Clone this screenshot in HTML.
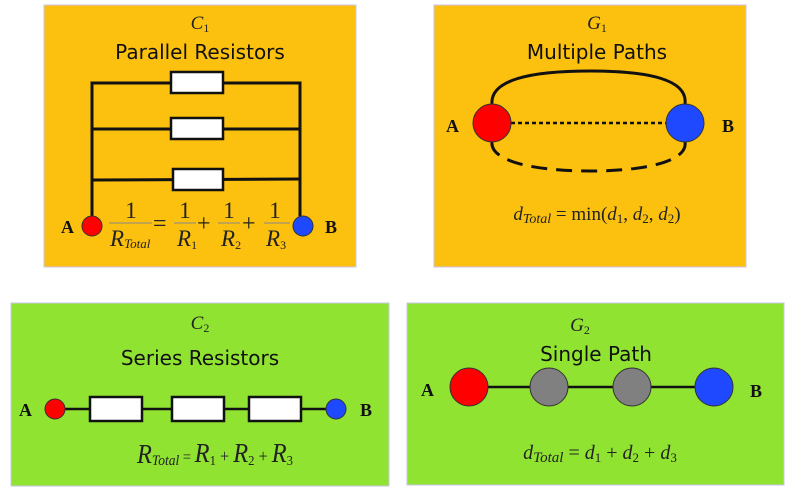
<!DOCTYPE html>
<html><head><meta charset="utf-8"><style>
html,body{margin:0;padding:0;background:#fff;width:797px;height:494px;overflow:hidden}
svg{display:block}
.t{font-family:"DejaVu Sans","Liberation Sans",sans-serif;font-size:20px;fill:#111}
.m{font-family:"Liberation Serif",serif;font-style:italic;fill:#222}
.r{font-family:"Liberation Serif",serif;fill:#222}
.b{font-family:"Liberation Serif",serif;font-weight:bold;font-size:18px;fill:#111}
</style></head><body>
<svg width="797" height="494" viewBox="0 0 797 494" xmlns="http://www.w3.org/2000/svg">
<!-- Panel 1 -->
<rect x="44" y="5" width="312" height="262" fill="#fcc00f" stroke="#c8c4e8" stroke-width="1"/>
<text x="200" y="29" class="m" font-size="19" text-anchor="middle">C<tspan font-size="12" font-style="normal" dy="3">1</tspan></text>
<text x="200" y="59" class="t" text-anchor="middle">Parallel Resistors</text>
<g stroke="#111" stroke-width="3" fill="none">
<polyline points="92,217 92,83 300,83 300,217"/>
<line x1="92" y1="129" x2="300" y2="129"/>
<line x1="92" y1="180" x2="300" y2="179"/>
</g>
<g fill="#fff" stroke="#111" stroke-width="2.5">
<rect x="171" y="72" width="52" height="21"/>
<rect x="171" y="118" width="52" height="21"/>
<rect x="173" y="169" width="50" height="21"/>
</g>
<circle cx="92" cy="226" r="10" fill="#f00" stroke="#333"/>
<circle cx="303" cy="226" r="10" fill="#1f49ff" stroke="#333"/>
<text x="61" y="233" class="b">A</text>
<text x="325" y="233" class="b">B</text>
<g stroke="#888" stroke-width="1">
<line x1="109" y1="223" x2="152" y2="223"/>
<line x1="174" y1="223" x2="196" y2="223"/>
<line x1="218" y1="223" x2="240" y2="223"/>
<line x1="264" y1="223" x2="290" y2="223"/>
</g>
<text x="131" y="218" class="r" font-size="23" text-anchor="middle">1</text>
<text x="110" y="246" class="m" font-size="23">R<tspan font-size="13" dy="2">Total</tspan></text>
<text x="153" y="231" class="r" font-size="24">=</text>
<text x="185" y="218" class="r" font-size="23" text-anchor="middle">1</text>
<text x="177" y="246" class="m" font-size="23">R<tspan font-size="12" font-style="normal" dy="3">1</tspan></text>
<text x="197" y="231" class="r" font-size="24">+</text>
<text x="229" y="218" class="r" font-size="23" text-anchor="middle">1</text>
<text x="221" y="246" class="m" font-size="23">R<tspan font-size="12" font-style="normal" dy="3">2</tspan></text>
<text x="242" y="231" class="r" font-size="24">+</text>
<text x="275" y="218" class="r" font-size="23" text-anchor="middle">1</text>
<text x="266" y="246" class="m" font-size="23">R<tspan font-size="12" font-style="normal" dy="3">3</tspan></text>

<!-- Panel 2 -->
<rect x="434" y="5" width="312" height="262" fill="#fcc00f" stroke="#c8c4e8" stroke-width="1"/>
<text x="597" y="29" class="m" font-size="19" text-anchor="middle">G<tspan font-size="12" font-style="normal" dy="3">1</tspan></text>
<text x="597" y="59" class="t" text-anchor="middle">Multiple Paths</text>
<path d="M492,104 C490,80 530,71 590,71 C650,71 688,80 685,104" fill="none" stroke="#111" stroke-width="3"/>
<path d="M492,142 C490,160 530,171 590,171 C650,171 688,160 685,142" fill="none" stroke="#111" stroke-width="3" stroke-dasharray="16,9"/>
<line x1="511" y1="123" x2="666" y2="123" stroke="#111" stroke-width="2.5" stroke-dasharray="4,3"/>
<circle cx="492" cy="123" r="19" fill="#f00" stroke="#333"/>
<circle cx="685" cy="123" r="19" fill="#1f49ff" stroke="#333"/>
<text x="446" y="132" class="b">A</text>
<text x="722" y="132" class="b">B</text>
<text x="597" y="220" class="m" font-size="19" text-anchor="middle">d<tspan font-size="14" dy="3">Total</tspan><tspan dy="-3" font-style="normal"> = min(</tspan>d<tspan font-size="13" font-style="normal" dy="3">1</tspan><tspan dy="-3" font-style="normal">, </tspan>d<tspan font-size="13" font-style="normal" dy="3">2</tspan><tspan dy="-3" font-style="normal">, </tspan>d<tspan font-size="13" font-style="normal" dy="3">2</tspan><tspan dy="-3" font-style="normal">)</tspan></text>

<!-- Panel 3 -->
<rect x="11" y="303" width="378" height="183" fill="#91e332" stroke="#c8c4e8" stroke-width="1"/>
<text x="200" y="329" class="m" font-size="19" text-anchor="middle">C<tspan font-size="12" font-style="normal" dy="3">2</tspan></text>
<text x="200" y="365" class="t" text-anchor="middle">Series Resistors</text>
<line x1="55" y1="409" x2="336" y2="409" stroke="#111" stroke-width="2.5"/>
<g fill="#fff" stroke="#111" stroke-width="2.5">
<rect x="90" y="397" width="52" height="24"/>
<rect x="172" y="397" width="52" height="24"/>
<rect x="249" y="397" width="52" height="24"/>
</g>
<circle cx="55" cy="409" r="10" fill="#f00" stroke="#333"/>
<circle cx="336" cy="409" r="10" fill="#1f49ff" stroke="#333"/>
<text x="19" y="416" class="b">A</text>
<text x="360" y="416" class="b">B</text>
<text x="137" y="463" class="m" font-size="27" textLength="156" lengthAdjust="spacingAndGlyphs">R<tspan font-size="15" dy="2">Total</tspan><tspan font-size="16" font-style="normal" dy="-3"> = </tspan>R<tspan font-size="14" font-style="normal" dy="3">1</tspan><tspan font-size="18" font-style="normal" dy="-3"> + </tspan>R<tspan font-size="14" font-style="normal" dy="3">2</tspan><tspan font-size="18" font-style="normal" dy="-3"> + </tspan>R<tspan font-size="14" font-style="normal" dy="3">3</tspan></text>

<!-- Panel 4 -->
<rect x="407" y="303" width="377" height="182" fill="#91e332" stroke="#c8c4e8" stroke-width="1"/>
<text x="580" y="331" class="m" font-size="19" text-anchor="middle">G<tspan font-size="12" font-style="normal" dy="3">2</tspan></text>
<text x="596" y="361" class="t" text-anchor="middle">Single Path</text>
<line x1="469" y1="387" x2="714" y2="387" stroke="#111" stroke-width="2.5"/>
<circle cx="469" cy="387" r="19" fill="#f00" stroke="#333"/>
<circle cx="549" cy="387" r="19" fill="#808080" stroke="#333"/>
<circle cx="632" cy="387" r="19" fill="#808080" stroke="#333"/>
<circle cx="714" cy="387" r="19" fill="#1f49ff" stroke="#333"/>
<text x="421" y="396" class="b">A</text>
<text x="750" y="397" class="b">B</text>
<text x="600" y="459" class="m" font-size="20" text-anchor="middle">d<tspan font-size="15" dy="3">Total</tspan><tspan dy="-3" font-style="normal"> = </tspan>d<tspan font-size="13" font-style="normal" dy="3">1</tspan><tspan dy="-3" font-style="normal"> + </tspan>d<tspan font-size="13" font-style="normal" dy="3">2</tspan><tspan dy="-3" font-style="normal"> + </tspan>d<tspan font-size="13" font-style="normal" dy="3">3</tspan></text>
</svg>
</body></html>
